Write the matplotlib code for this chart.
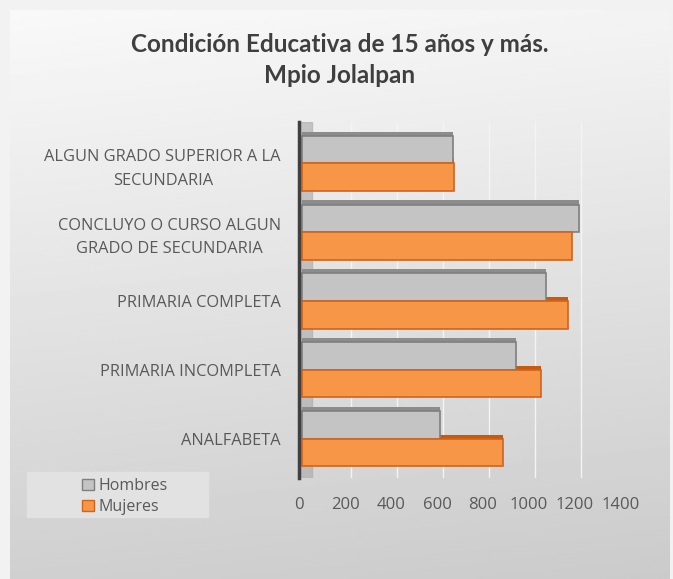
import numpy as np
import matplotlib
matplotlib.use("Agg")
import matplotlib.pyplot as plt
import matplotlib.patches as mpatches

plt.rcParams["font.family"] = ["Lato", "DejaVu Sans"]

# datos
categorias = ["ANALFABETA", "PRIMARIA INCOMPLETA", "PRIMARIA COMPLETA",
              "CONCLUYO O CURSO ALGUN\nGRADO DE SECUNDARIA",
              "ALGUN GRADO SUPERIOR A LA\nSECUNDARIA"]
hombres = [597, 928, 1058, 1202, 657]
mujeres = [871, 1037, 1154, 1171, 662]
ticks_x = [0, 200, 400, 600, 800, 1000, 1200, 1400]

W, H = 673, 579
fig = plt.figure(figsize=(W / 100, H / 100), dpi=100)
fig.patch.set_facecolor("#f2f2f2")

# panel de fondo con degradado
bg = fig.add_axes([10 / W, 0, 660 / W, 1 - 10 / H])
grad = np.linspace(0, 1, 256).reshape(-1, 1)
colx = np.linspace(0, 1, 256).reshape(1, -1)
img = 0.975 - 0.16 * grad - 0.02 * colx
bg.imshow(img, cmap="gray", vmin=0, vmax=1, aspect="auto", extent=[0, 1, 0, 1], origin="upper")
bg.set_axis_off()

fig.text(340 / W, 1 - 60 / H, "Condición Educativa de 15 años y más.\nMpio Jolalpan",
         ha="center", va="center", fontsize=17.5, fontweight="bold", color="#3f3f3f",
         linespacing=1.4)

ax = fig.add_axes([299 / W, 1 - 478 / H, 322 / W, 356 / H])
ax.patch.set_alpha(0)
y = np.arange(len(categorias))
h = 0.4

ax.set_xlim(0, 1400)
ax.set_ylim(-0.57, 4.6)

# pared lateral 3D
ax.axvspan(0, 55, color="#a9a9a9", alpha=0.6, zorder=0)
for t in ticks_x[1:]:
    ax.axvline(t + 25, color="#f4f4f4", lw=1.0, zorder=0.5)

dx, dy = 14, 0.06
# profundidad
ax.barh(y + h / 2 + dy, np.array(hombres), height=h, left=dx,
        color="#8c8c8c", zorder=1)
ax.barh(y - h / 2 + dy, np.array(mujeres), height=h, left=dx,
        color="#c55a11", zorder=1)
# caras frontales
ax.barh(y + h / 2, hombres, height=h, left=dx, color="#c4c4c4",
        edgecolor="#7f7f7f", linewidth=1.2, zorder=2, label="Hombres")
ax.barh(y - h / 2, mujeres, height=h, left=dx, color="#f79646",
        edgecolor="#d0641c", linewidth=1.2, zorder=2, label="Mujeres")

ax.set_yticks(y)
ax.set_yticklabels(categorias, fontsize=11.8, color="#595959", fontfamily=["Open Sans", "DejaVu Sans"],
                   multialignment="center", linespacing=1.6)
ax.set_xticks(ticks_x)
ax.set_xticklabels([str(t) for t in ticks_x], fontsize=12, color="#595959",
                   fontfamily=["Open Sans", "DejaVu Sans"])
ax.tick_params(axis="y", length=0, pad=13)
ax.tick_params(axis="x", length=0, pad=14)
for s in ["top", "right", "bottom"]:
    ax.spines[s].set_visible(False)
ax.spines["left"].set_color("#404040")
ax.spines["left"].set_linewidth(2.5)

# leyenda
fig.patches.append(mpatches.Rectangle((27 / W, 1 - 517 / H), 181 / W, 45 / H,
                                      transform=fig.transFigure, color="#e2e2e2", zorder=1))
handles = [mpatches.Patch(facecolor="#c4c4c4", edgecolor="#7f7f7f", label="Hombres"),
           mpatches.Patch(facecolor="#f79646", edgecolor="#d0641c", label="Mujeres")]
leg = fig.legend(handles=handles, loc="upper left", bbox_to_anchor=(71 / W, 1 - 467 / H),
                 frameon=False, fontsize=11.5, handlelength=0.75, handleheight=0.75,
                 handletextpad=0.25, labelspacing=0.3, borderpad=0.2)
for t in leg.get_texts():
    t.set_color("#595959")
    t.set_fontfamily(["Open Sans", "DejaVu Sans"])

plt.savefig("out.png", dpi=100)
